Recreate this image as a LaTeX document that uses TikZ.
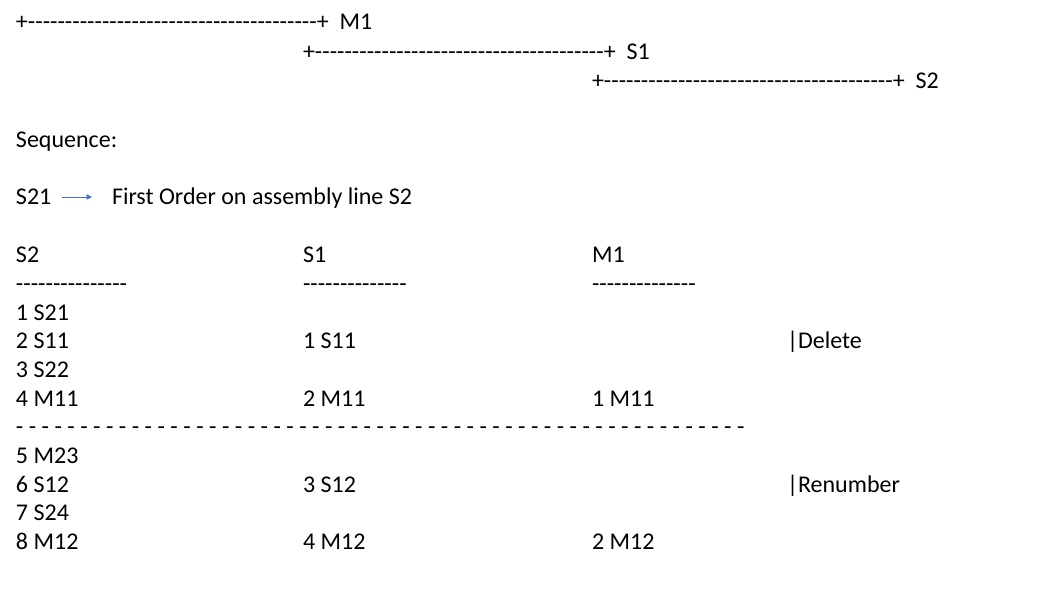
\documentclass[tikz,border=0pt]{standalone}
\usepackage{fontspec}
\newfontfamily\calfont{Carlito}
\usetikzlibrary{arrows.meta}
\definecolor{arrowblue}{HTML}{4472C4}
\newcommand\hyfont{\fontsize{24.2}{28}\selectfont}
\ExplSyntaxOn
\cs_new:Npn \myhy #1 {{\hyfont\prg_replicate:nn{#1}{-}}}
\cs_new:Npn \myspdash #1 {{\hyfont\prg_replicate:nn{#1-1}{-~}-}}
\ExplSyntaxOff
\tikzset{
  txt/.style={anchor=base west, inner sep=0pt, outer sep=0pt, font=\calfont\fontsize{24}{28}\selectfont},
  seqarrow/.style={draw=arrowblue, line width=0.8pt, -{Triangle[length=5.5pt,width=5.5pt]}}
}
\begin{document}
\begin{tikzpicture}[x=1pt,y=-1pt]
\useasboundingbox[fill=white] (0,0) rectangle (1051,596);
% timeline bars
\node[txt] (l1) at (16,29.6) {+\myhy{39}+\ \ M1};
\node[txt] (l2) at (303,59.2) {+\myhy{39}+\ \ S1};
\node[txt] (l3) at (592,88.6) {+\myhy{39}+\ \ S2};
\node[txt] (seq) at (16,147.6) {Sequence:};
\node[txt] (s21) at (16,204.6) {S21};
\node[txt] (first) at (112,204.6) {First Order on assembly line S2};
\coordinate (arrA) at (62,197);
\coordinate (arrB) at (92,197);
\draw[seqarrow] (arrA) -- (arrB);
% headers
\node[txt] (h1) at (16,262.6) {S2};
\node[txt] (h2) at (303,262.6) {S1};
\node[txt] (h3) at (592,262.6) {M1};
\node[txt] (d1) at (16,291.3) {\myhy{15}};
\node[txt] (d2) at (303,291.3) {\myhy{14}};
\node[txt] (d3) at (592,291.3) {\myhy{14}};
% rows
\node[txt] (r1a) at (16,320.0) {1 S21};
\node[txt] (r2a) at (16,348.7) {2 S11};
\node[txt] (r2b) at (303,348.7) {1 S11};
\node[txt] (r2d) at (787,348.7) {|Delete};
\node[txt] (r3a) at (16,377.4) {3 S22};
\node[txt] (r4a) at (16,406.1) {4 M11};
\node[txt] (r4b) at (303,406.1) {2 M11};
\node[txt] (r4c) at (592,406.1) {1 M11};
\node[txt] (sep) at (16,434.8) {\myspdash{57}};
\node[txt] (r5a) at (16,463.5) {5 M23};
\node[txt] (r6a) at (16,492.2) {6 S12};
\node[txt] (r6b) at (303,492.2) {3 S12};
\node[txt] (r6d) at (787,492.2) {|Renumber};
\node[txt] (r7a) at (16,520.9) {7 S24};
\node[txt] (r8a) at (16,549.6) {8 M12};
\node[txt] (r8b) at (303,549.6) {4 M12};
\node[txt] (r8c) at (592,549.6) {2 M12};
\end{tikzpicture}
\end{document}
